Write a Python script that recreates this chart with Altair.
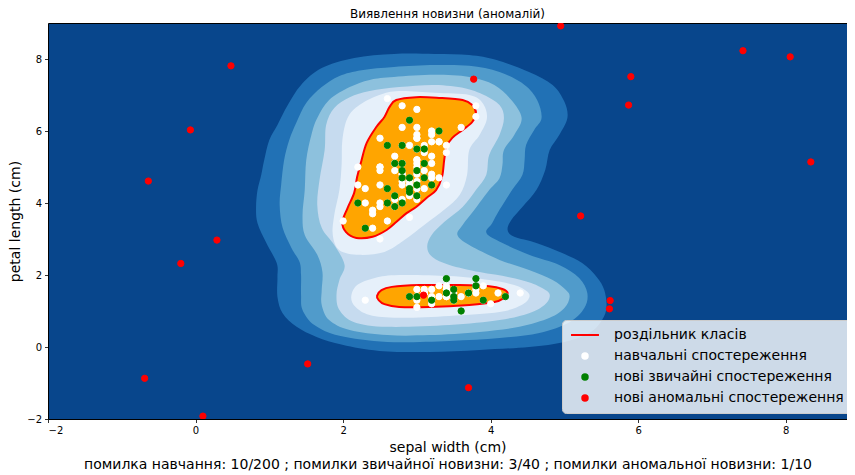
import altair as alt
import pandas as pd

FONT = "DejaVu Sans"

# ---------------- data ----------------
x_domain = [-2, 8.83]
y_domain = [-2, 9]
ticks = [-2, 0, 2, 4, 6, 8]

background_color = "#08468c"
band_colors = ["#2171b5", "#509bcb", "#8dc1dd", "#c6dbef", "#e6f0fa"]
inlier_color = "orange"
boundary_color = "red"

# contour level outlines (decision function levels)
contour_1 = [(3.24, 8.14), (3.71, 8.11), (4.08, 7.97), (4.52, 7.64), (4.84, 7.28), (5.00, 6.81),
             (5.04, 6.36), (4.93, 5.89), (4.80, 5.47), (4.74, 4.92), (4.62, 4.36), (4.43, 3.89),
             (4.28, 3.53), (4.23, 3.25), (4.32, 3.06), (4.62, 2.89), (4.97, 2.61), (5.24, 2.33),
             (5.44, 1.94), (5.54, 1.58), (5.57, 1.11), (5.51, 0.75), (5.34, 0.39), (5.00, 0.14),
             (4.52, 0.00), (3.85, -0.08), (3.17, -0.14), (2.49, -0.11), (1.99, 0.06), (1.64, 0.28),
             (1.37, 0.56), (1.18, 0.94), (1.11, 1.39), (1.11, 1.94), (1.10, 2.33), (0.96, 2.89),
             (0.84, 3.44), (0.82, 3.89), (0.84, 4.36), (0.89, 4.78), (0.93, 5.19), (1.00, 5.75),
             (1.11, 6.17), (1.25, 6.72), (1.43, 7.28), (1.71, 7.75), (2.15, 8.03), (2.69, 8.14)]
contour_2 = [(2.69, 7.78), (3.24, 7.83), (3.71, 7.81), (4.12, 7.64), (4.46, 7.28), (4.63, 6.86),
             (4.69, 6.36), (4.59, 6.03), (4.48, 5.61), (4.46, 5.19), (4.43, 4.78), (4.29, 4.36),
             (4.12, 3.81), (4.02, 3.44), (3.94, 3.19), (4.08, 2.97), (4.52, 2.56), (4.93, 2.28),
             (5.20, 1.92), (5.31, 1.50), (5.27, 1.08), (5.07, 0.69), (4.66, 0.39), (4.12, 0.25),
             (3.44, 0.17), (2.60, 0.14), (1.95, 0.31), (1.61, 0.61), (1.45, 1.03), (1.43, 1.44),
             (1.43, 2.00), (1.41, 2.36), (1.30, 2.75), (1.18, 3.31), (1.14, 3.94), (1.16, 4.50),
             (1.20, 5.19), (1.27, 5.75), (1.37, 6.25), (1.50, 6.78), (1.71, 7.22), (1.95, 7.53),
             (2.25, 7.69)]
contour_3 = [(2.69, 7.50), (3.24, 7.56), (3.71, 7.50), (4.05, 7.28), (4.28, 6.86), (4.42, 6.36),
             (4.32, 5.89), (4.18, 5.47), (4.16, 5.06), (4.12, 4.69), (3.98, 4.36), (3.78, 3.81),
             (3.62, 3.39), (3.55, 3.11), (3.71, 2.83), (4.12, 2.42), (4.52, 2.14), (4.84, 1.86),
             (5.02, 1.58), (5.07, 1.39), (5.00, 1.08), (4.80, 0.81), (4.39, 0.56), (3.85, 0.42),
             (3.17, 0.33), (2.60, 0.33), (2.09, 0.47), (1.81, 0.75), (1.71, 1.17), (1.71, 1.58),
             (1.72, 2.08), (1.65, 2.56), (1.48, 3.11), (1.45, 3.67), (1.48, 4.36), (1.50, 5.19),
             (1.57, 5.89), (1.65, 6.36), (1.81, 6.86), (2.09, 7.22), (2.36, 7.42)]
contour_4 = [(2.76, 7.22), (3.24, 7.28), (3.65, 7.19), (3.91, 7.00), (4.12, 6.72), (4.18, 6.36),
             (4.12, 5.89), (3.98, 5.33), (3.94, 4.78), (3.80, 4.36), (3.62, 3.89), (3.37, 3.47),
             (3.20, 3.11), (3.14, 2.78), (3.21, 2.50), (3.44, 2.28), (3.85, 2.08), (4.25, 1.94),
             (4.55, 1.78), (4.76, 1.56), (4.80, 1.39), (4.73, 1.17), (4.52, 0.94), (4.12, 0.75),
             (3.44, 0.61), (2.60, 0.56), (2.15, 0.69), (1.95, 1.03), (1.91, 1.44), (1.95, 1.86),
             (2.02, 2.28), (1.88, 2.83), (1.71, 3.31), (1.65, 3.94), (1.68, 4.64), (1.75, 5.47),
             (1.77, 6.17), (1.88, 6.64), (2.09, 6.94), (2.36, 7.11)]
contour_5_upper = [(2.76, 7.11), (3.24, 7.06), (3.71, 7.00), (3.89, 6.78), (3.95, 6.36), (3.85, 5.89),
                   (3.71, 5.47), (3.68, 4.78), (3.58, 4.22), (3.37, 3.81), (3.10, 3.39), (2.83, 2.97),
                   (2.56, 2.64), (2.22, 2.56), (1.95, 2.69), (1.86, 3.11), (1.88, 3.67), (1.95, 4.36),
                   (1.98, 5.06), (1.99, 5.75), (2.06, 6.36), (2.22, 6.72), (2.49, 7.00)]
contour_5_lower = [(2.11, 1.39), (2.19, 1.72), (2.43, 1.92), (2.76, 2.00), (3.44, 1.97), (3.98, 1.86),
                   (4.32, 1.72), (4.50, 1.53), (4.52, 1.36), (4.42, 1.17), (4.12, 0.97), (3.44, 0.86),
                   (2.76, 0.81), (2.36, 0.89), (2.17, 1.11)]
boundary_upper = [(2.72, 6.86), (2.99, 6.94), (3.30, 6.92), (3.62, 6.86), (3.75, 6.72), (3.80, 6.50),
                  (3.75, 6.25), (3.62, 6.03), (3.48, 5.81), (3.40, 5.56), (3.37, 5.19), (3.34, 4.72),
                  (3.26, 4.36), (3.13, 4.14), (2.99, 3.89), (2.86, 3.72), (2.72, 3.47), (2.59, 3.25),
                  (2.40, 3.06), (2.18, 3.03), (2.04, 3.19), (1.99, 3.47), (2.06, 3.86), (2.15, 4.28),
                  (2.19, 4.72), (2.25, 5.19), (2.32, 5.67), (2.45, 6.11), (2.56, 6.39), (2.63, 6.67)]
boundary_lower = [(2.46, 1.42), (2.52, 1.58), (2.66, 1.67), (3.03, 1.72), (3.58, 1.72), (3.98, 1.69),
                  (4.16, 1.61), (4.23, 1.50), (4.18, 1.36), (4.05, 1.25), (3.71, 1.17), (3.17, 1.11),
                  (2.76, 1.11), (2.56, 1.19), (2.48, 1.31)]

# training observations (white)
train_x = [3.5, 3.0, 3.2, 3.1, 3.6, 3.9, 3.4, 3.4, 2.9, 3.1, 3.7, 3.4, 3.0, 3.0, 4.0, 4.4, 3.9, 3.5, 3.8, 3.8,
           3.4, 3.7, 3.6, 3.3, 3.4, 3.0, 3.4, 3.5, 3.4, 3.2, 3.1, 3.4, 4.1, 4.2, 3.1, 3.2, 3.5, 3.1, 3.0, 3.4,
           3.5, 2.3, 3.2, 3.5, 3.8, 3.0, 3.8, 3.2, 3.7, 3.3,
           3.2, 3.2, 3.1, 2.3, 2.8, 2.8, 3.3, 2.4, 2.9, 2.7, 2.0, 3.0, 2.2, 2.9, 2.9, 3.1, 3.0, 2.7, 2.2, 2.5,
           3.2, 2.8, 2.5, 2.8, 2.9, 3.0, 2.8, 3.0, 2.9, 2.6, 2.4, 2.4, 2.7, 2.7, 3.0, 3.4, 3.1, 2.3, 3.0, 2.5,
           2.6, 3.0, 2.6, 2.3, 2.7, 3.0, 2.9, 2.9, 2.5, 2.8,
           3.3, 2.7, 3.0, 2.9, 3.0, 3.0, 2.5, 2.9, 2.5, 3.6, 3.2, 2.7, 3.0, 2.5, 2.8, 3.2, 3.0, 3.8, 2.6, 2.2,
           3.2, 2.8, 2.8, 2.7, 3.3, 3.2, 2.8, 3.0, 2.8, 3.0, 2.8, 3.8, 2.8, 2.8, 2.6, 3.0, 3.4, 3.1, 3.0, 3.1,
           3.1, 3.1, 2.7, 3.2, 3.3, 3.0, 2.5, 3.0, 3.4, 3.0]
train_y = [1.4, 1.4, 1.3, 1.5, 1.4, 1.7, 1.4, 1.5, 1.4, 1.5, 1.5, 1.6, 1.4, 1.1, 1.2, 1.5, 1.3, 1.4, 1.7, 1.5,
           1.7, 1.5, 1.0, 1.7, 1.9, 1.6, 1.6, 1.5, 1.4, 1.6, 1.6, 1.5, 1.5, 1.4, 1.5, 1.2, 1.3, 1.5, 1.3, 1.5,
           1.3, 1.3, 1.3, 1.6, 1.9, 1.4, 1.6, 1.4, 1.5, 1.4,
           4.7, 4.5, 4.9, 4.0, 4.6, 4.5, 4.7, 3.3, 4.6, 3.9, 3.5, 4.2, 4.0, 4.7, 3.6, 4.4, 4.5, 4.1, 4.5, 3.9,
           4.8, 4.0, 4.9, 4.7, 4.3, 4.4, 4.8, 5.0, 4.5, 3.5, 3.8, 3.7, 3.9, 5.1, 4.5, 4.5, 4.7, 4.4, 4.1, 4.0,
           4.4, 4.6, 4.0, 3.3, 4.2, 4.2, 4.2, 4.3, 3.0, 4.1,
           6.0, 5.1, 5.9, 5.6, 5.8, 6.6, 4.5, 6.3, 5.8, 6.1, 5.1, 5.3, 5.5, 5.0, 5.1, 5.3, 5.5, 6.7, 6.9, 5.0,
           5.7, 4.9, 6.7, 4.9, 5.7, 6.0, 4.8, 4.9, 5.6, 5.8, 6.1, 6.4, 5.6, 5.1, 5.6, 6.1, 5.6, 5.5, 4.8, 5.4,
           5.6, 5.1, 5.1, 5.9, 5.7, 5.2, 5.0, 5.2, 5.4, 5.1]

# new regular observations (green)
normal_x = [2.9, 3.3, 2.6, 2.8, 3.0, 3.1, 2.7, 2.8, 3.1, 3.0, 2.8, 2.8, 2.9, 3.0, 3.1, 3.2, 2.6, 2.9,
            3.0, 2.7, 2.2, 2.6, 2.7, 2.8, 2.3, 2.9,
            3.4, 3.8, 3.8, 3.4, 3.5, 3.5, 3.5, 3.7, 2.9, 3.0, 3.2, 3.9, 4.2, 3.6]
normal_y = [6.3, 6.0, 5.6, 5.6, 5.5, 5.5, 5.1, 5.1, 5.1, 4.9, 4.9, 4.7, 4.7, 4.5, 4.7, 4.5, 4.4, 4.3,
            4.2, 4.2, 4.0, 4.0, 3.9, 4.0, 3.3, 4.4,
            1.9, 1.9, 1.7, 1.5, 1.6, 1.4, 1.3, 1.5, 1.4, 1.4, 1.3, 1.3, 1.4, 1.0]

# new abnormal observations (red)
abnormal_x = [0.48, -0.07, -0.64, 0.29, -0.20, -0.69, 0.10, 1.52, 3.09, 4.95,
              7.42, 8.06, 5.90, 5.87, 8.34, 5.22, 3.77, 5.62, 5.61, 3.70]
abnormal_y = [7.81, 6.03, 4.61, 2.97, 2.32, -0.87, -1.92, -0.47, 1.44, 8.92,
              8.23, 8.06, 7.51, 6.72, 5.14, 3.64, 7.44, 1.29, 1.06, -1.13]

categories = ["роздільник класів", "навчальні спостереження",
              "нові звичайні спостереження", "нові аномальні спостереження"]
category_colors = ["red", "white", "green", "red"]
category_shapes = ["M-5.1,0H5.1", "circle", "circle", "circle"]

title_text = "Виявлення новизни (аномалій)"
x_title = ["sepal width (cm)",
           "помилка навчання: 10/200 ; помилки звичайної новизни: 3/40 ; помилки аномальної новизни: 1/10"]
y_title = "petal length (cm)"

# ---------------- tables ----------------
levels = [
    ("1", [contour_1]),
    ("2", [contour_2]),
    ("3", [contour_3]),
    ("4", [contour_4]),
    ("5", [contour_5_upper, contour_5_lower]),
    ("6", [boundary_upper, boundary_lower]),
]
rows = []
for lev, parts in levels:
    for p, pts in enumerate(parts):
        for i, (xv, yv) in enumerate(pts):
            rows.append({"level": lev, "part": f"{lev}-{p}", "i": i, "x": xv, "y": yv})
contours = pd.DataFrame(rows)

points = pd.DataFrame({
    "x": train_x + normal_x + abnormal_x,
    "y": train_y + normal_y + abnormal_y,
    "kind": [categories[1]] * len(train_x) + [categories[2]] * len(normal_x) + [categories[3]] * len(abnormal_x),
})

# ---------------- encodings ----------------
x_axis = alt.Axis(values=ticks, grid=False, domain=False, tickSize=3.5, tickColor="black", tickWidth=0.8,
                  labelFont=FONT, labelFontSize=10, labelColor="black", labelPadding=3,
                  title=x_title, titleFont=FONT, titleFontSize=14, titleFontWeight="normal",
                  titleColor="black", titlePadding=5, titleLineHeight=17)
y_axis = alt.Axis(values=ticks, grid=False, domain=False, tickSize=3.5, tickColor="black", tickWidth=0.8,
                  labelFont=FONT, labelFontSize=10, labelColor="black", labelPadding=3,
                  title=y_title, titleFont=FONT, titleFontSize=14, titleFontWeight="normal",
                  titleColor="black", titlePadding=4)
X = alt.X("x:Q", scale=alt.Scale(domain=x_domain, nice=False, zero=False), axis=x_axis)
Y = alt.Y("y:Q", scale=alt.Scale(domain=y_domain, nice=False, zero=False), axis=y_axis)

base = alt.Chart(contours)

layers = []
for k, col in enumerate(band_colors + [inlier_color]):
    lev = str(k + 1)
    layers.append(
        base.transform_filter(alt.datum.level == lev)
        .mark_line(filled=True, fill=col, interpolate="cardinal-closed", clip=True)
        .encode(x=X, y=Y, order=alt.Order("i:Q"), detail="part:N")
    )

boundary = (
    base.transform_filter(alt.datum.level == "6")
    .mark_line(stroke=boundary_color, strokeWidth=2, interpolate="cardinal-closed", clip=True)
    .encode(x=X, y=Y, order=alt.Order("i:Q"), detail="part:N")
)

legend = alt.Legend(title=None, orient="none", legendX=514, legendY=297, direction="vertical",
                    fillColor="rgba(255,255,255,0.8)", strokeColor="#cccccc", cornerRadius=4,
                    padding=8, symbolOffset=8, labelOffset=22, symbolSize=30, symbolStrokeWidth=2,
                    labelFont=FONT, labelFontSize=14, labelColor="black", rowPadding=7, labelLimit=500)

scatter = alt.Chart(points).mark_point(filled=True, size=40, strokeWidth=1, opacity=1, clip=True).encode(
    x=X, y=Y,
    fill=alt.Fill("kind:N", scale=alt.Scale(domain=categories, range=category_colors), legend=legend),
    stroke=alt.Stroke("kind:N", scale=alt.Scale(domain=categories, range=category_colors), legend=legend),
    shape=alt.Shape("kind:N", scale=alt.Scale(domain=categories, range=category_shapes), legend=legend),
)

chart = (
    alt.layer(*layers, boundary, scatter)
    .properties(
        width=799, height=396,
        padding={"left": 40, "top": 15, "right": 0, "bottom": 53},
        autosize=alt.AutoSizeParams(type="none"),
        background="white",
        title=alt.TitleParams(title_text, font=FONT, fontSize=12, fontWeight="normal",
                              color="black", anchor="middle", offset=2),
    )
    .configure_view(fill=background_color, stroke="black", strokeWidth=1)
)

chart.save("out.html", embed_options={"renderer": "svg", "actions": False})
